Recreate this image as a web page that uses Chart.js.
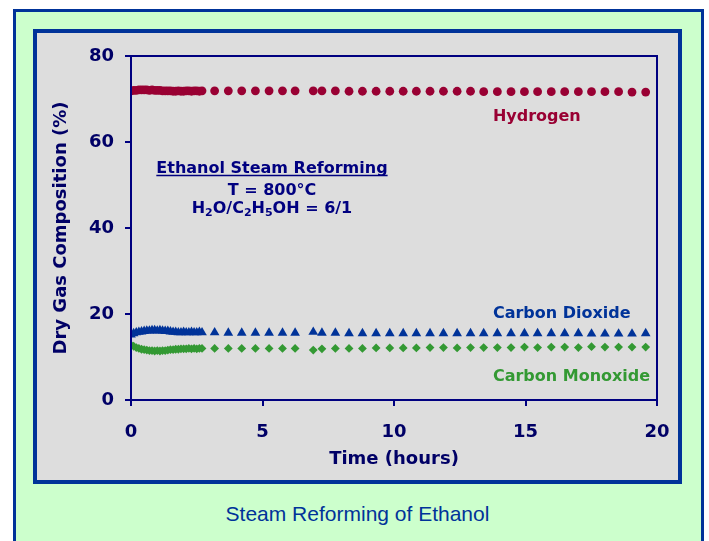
<!DOCTYPE html>
<html>
<head>
<meta charset="utf-8">
<script src="https://cdn.jsdelivr.net/npm/chart.js@4.4.1/dist/chart.umd.min.js"></script>
<style>
  html, body { margin: 0; padding: 0; background: #ffffff; width: 709px; height: 541px; overflow: hidden; }
  #outer { position: absolute; left: 13px; top: 9px; width: 685px; height: 600px; background: #ccffcc; border: 3px solid #003399; }
  #inner { position: absolute; left: 33px; top: 29px; width: 641px; height: 447px; background: #dddddd; border: 4px solid #003399; }
  #caption { position: absolute; left: 0; width: 715px; top: 501px; text-align: center; font-family: "Liberation Sans", Arial, sans-serif; font-size: 21px; color: #003399; line-height: 26px; }
  #chart { position: absolute; left: 0; top: 0; }
</style>
</head>
<body>
<div id="outer"></div>
<div id="inner"></div>
<div id="caption">Steam Reforming of Ethanol</div>
<canvas id="chart" width="709" height="541" style="width:709px;height:541px"></canvas>
<script>
// ---- data ----
const timeHours = [
  0.0, 0.1, 0.2, 0.3, 0.4, 0.5, 0.6, 0.7, 0.8, 0.9, 1.0, 1.1, 1.2, 1.3,
  1.4, 1.5, 1.6, 1.7, 1.8, 1.9, 2.0, 2.1, 2.2, 2.3, 2.4, 2.5, 2.6, 2.7,
  3.18, 3.70, 4.21, 4.73, 5.25, 5.76, 6.24, 6.93, 7.26, 7.77, 8.29, 8.80,
  9.32, 9.84, 10.35, 10.85, 11.37, 11.88, 12.40, 12.91, 13.41, 13.93, 14.45,
  14.96, 15.46, 15.98, 16.49, 17.01, 17.51, 18.02, 18.54, 19.05, 19.57
];
const hydrogen = [
  71.9, 72.0, 72.0, 72.1, 72.1, 72.1, 72.1, 72.0, 72.1, 72.0, 72.0, 72.0, 71.9, 71.9,
  71.9, 71.9, 71.8, 71.8, 71.9, 71.8, 71.8, 71.9, 71.9, 71.8, 71.9, 71.9, 71.8, 71.9,
  71.9, 71.9, 71.9, 71.9, 71.9, 71.9, 71.9, 71.9, 71.9, 71.9, 71.8, 71.8,
  71.8, 71.8, 71.8, 71.8, 71.8, 71.8, 71.8, 71.8, 71.7, 71.7, 71.7,
  71.7, 71.7, 71.7, 71.7, 71.7, 71.7, 71.7, 71.7, 71.6, 71.6
];
const carbonDioxide = [
  15.2, 15.5, 15.7, 15.8, 15.9, 16.0, 16.1, 16.1, 16.2, 16.2, 16.1, 16.2, 16.1, 16.0,
  16.0, 15.9, 15.8, 15.8, 15.7, 15.7, 15.8, 15.7, 15.7, 15.8, 15.7, 15.7, 15.8, 15.7,
  15.7, 15.6, 15.6, 15.6, 15.6, 15.6, 15.6, 15.8, 15.6, 15.6, 15.5, 15.5,
  15.5, 15.5, 15.5, 15.5, 15.5, 15.5, 15.5, 15.5, 15.5, 15.5, 15.5,
  15.5, 15.5, 15.5, 15.5, 15.5, 15.4, 15.4, 15.4, 15.4, 15.5
];
const carbonMonoxide = [
  12.8, 12.5, 12.2, 12.0, 11.8, 11.7, 11.6, 11.5, 11.5, 11.4, 11.5, 11.4, 11.5, 11.5,
  11.6, 11.7, 11.7, 11.8, 11.8, 11.9, 11.9, 11.9, 12.0, 11.9, 12.0, 11.9, 12.0, 12.0,
  12.0, 12.0, 12.0, 12.0, 12.0, 12.0, 12.0, 11.6, 11.9, 12.0, 12.0, 12.0,
  12.1, 12.1, 12.1, 12.1, 12.2, 12.2, 12.1, 12.2, 12.2, 12.2, 12.2,
  12.3, 12.2, 12.3, 12.3, 12.2, 12.4, 12.3, 12.3, 12.3, 12.3
];
const xTicks = [0, 5, 10, 15, 20];
const yTicks = [0, 20, 40, 60, 80];
const seriesNames = ['Hydrogen', 'Carbon Dioxide', 'Carbon Monoxide'];
const seriesColors = ['#990033', '#003399', '#339933'];
// label anchors (data coordinates)
const seriesLabelX = [13.76, 13.76, 13.76];
const seriesLabelY = [64.9, 19.1, 4.4];
const infoX = 5.36;
const infoY = [52.8, 47.7, 43.5];

const toPts = (ys) => timeHours.map((t, i) => ({ x: t, y: ys[i] }));

const NAVY = '#000080';
const TEXT = '#000066';

const labelsPlugin = {
  id: 'labelsPlugin',
  afterDraw(chart) {
    const { ctx, chartArea, scales: { x, y } } = chart;
    ctx.save();
    // plot frame (top and right sides)
    ctx.strokeStyle = NAVY;
    ctx.lineWidth = 2;
    ctx.strokeRect(chartArea.left, chartArea.top, chartArea.right - chartArea.left, chartArea.bottom - chartArea.top);
    // series labels
    ctx.font = 'bold 16px "DejaVu Sans", Verdana, sans-serif';
    ctx.textBaseline = 'alphabetic';
    ctx.textAlign = 'left';
    seriesNames.forEach((n, i) => {
      ctx.fillStyle = seriesColors[i];
      ctx.fillText(n, x.getPixelForValue(seriesLabelX[i]), y.getPixelForValue(seriesLabelY[i]));
    });
    // info block
    const cx = x.getPixelForValue(infoX);
    ctx.fillStyle = NAVY;
    ctx.textAlign = 'center';
    const l1 = 'Ethanol Steam Reforming';
    const b1 = y.getPixelForValue(infoY[0]);
    ctx.fillText(l1, cx, b1);
    const w1 = ctx.measureText(l1).width;
    ctx.strokeStyle = NAVY;
    ctx.lineWidth = 1.5;
    ctx.beginPath();
    ctx.moveTo(cx - w1 / 2, b1 + 2.5);
    ctx.lineTo(cx + w1 / 2, b1 + 2.5);
    ctx.stroke();
    ctx.fillText('T = 800°C', cx, y.getPixelForValue(infoY[1]));
    // formula with subscripts
    const parts = [['H', 0], ['2', 1], ['O/C', 0], ['2', 1], ['H', 0], ['5', 1], ['OH = 6/1', 0]];
    const fMain = 'bold 16px "DejaVu Sans", Verdana, sans-serif';
    const fSub = 'bold 11px "DejaVu Sans", Verdana, sans-serif';
    let total = 0;
    parts.forEach(([t, s]) => { ctx.font = s ? fSub : fMain; total += ctx.measureText(t).width; });
    let px = cx - total / 2;
    const b3 = y.getPixelForValue(infoY[2]);
    ctx.textAlign = 'left';
    parts.forEach(([t, s]) => {
      ctx.font = s ? fSub : fMain;
      ctx.fillText(t, px, s ? b3 + 3 : b3);
      px += ctx.measureText(t).width;
    });
    ctx.restore();
  }
};

new Chart(document.getElementById('chart'), {
  type: 'scatter',
  data: {
    datasets: [
      { label: seriesNames[0], data: toPts(hydrogen), pointStyle: 'circle', pointRadius: 4.4, backgroundColor: seriesColors[0], borderColor: seriesColors[0], borderWidth: 0 },
      { label: seriesNames[1], data: toPts(carbonDioxide), pointStyle: 'triangle', pointRadius: 5.6, backgroundColor: seriesColors[1], borderColor: seriesColors[1], borderWidth: 0 },
      { label: seriesNames[2], data: toPts(carbonMonoxide), pointStyle: 'rectRot', pointRadius: 4.4, backgroundColor: seriesColors[2], borderColor: seriesColors[2], borderWidth: 0 }
    ]
  },
  options: {
    responsive: false,
    animation: false,
    events: [],
    layout: { padding: { left: 40, right: 52, top: 56, bottom: 61 } },
    plugins: { legend: { display: false }, tooltip: { enabled: false }, title: { display: false } },
    scales: {
      x: {
        type: 'linear', min: 0, max: 20,
        afterBuildTicks: (s) => { s.ticks = xTicks.map(v => ({ value: v })); },
        afterFit: (s) => { s.height = 80; },
        grid: { display: true, drawOnChartArea: false, drawTicks: true, tickLength: 6, color: NAVY, lineWidth: 2 },
        border: { display: true, color: NAVY, width: 2 },
        ticks: { color: TEXT, font: { family: '"DejaVu Sans", Verdana, sans-serif', size: 18, weight: 'bold' }, padding: 16, maxRotation: 0 },
        title: { display: true, text: 'Time (hours)', color: TEXT, font: { family: '"DejaVu Sans", Verdana, sans-serif', size: 18, weight: 'bold' }, padding: { top: 0, bottom: 10 } }
      },
      y: {
        type: 'linear', min: 0, max: 80,
        afterBuildTicks: (s) => { s.ticks = yTicks.map(v => ({ value: v })); },
        afterFit: (s) => { s.width = 91; },
        grid: { display: true, drawOnChartArea: false, drawTicks: true, tickLength: 6, color: NAVY, lineWidth: 2 },
        border: { display: true, color: NAVY, width: 2 },
        ticks: { color: TEXT, font: { family: '"DejaVu Sans", Verdana, sans-serif', size: 18, weight: 'bold' }, padding: 11 },
        title: { display: true, text: 'Dry Gas Composition (%)', color: TEXT, font: { family: '"DejaVu Sans", Verdana, sans-serif', size: 18, weight: 'bold' }, padding: { top: 11, bottom: 0 } }
      }
    }
  },
  plugins: [labelsPlugin]
});
</script>
</body>
</html>
